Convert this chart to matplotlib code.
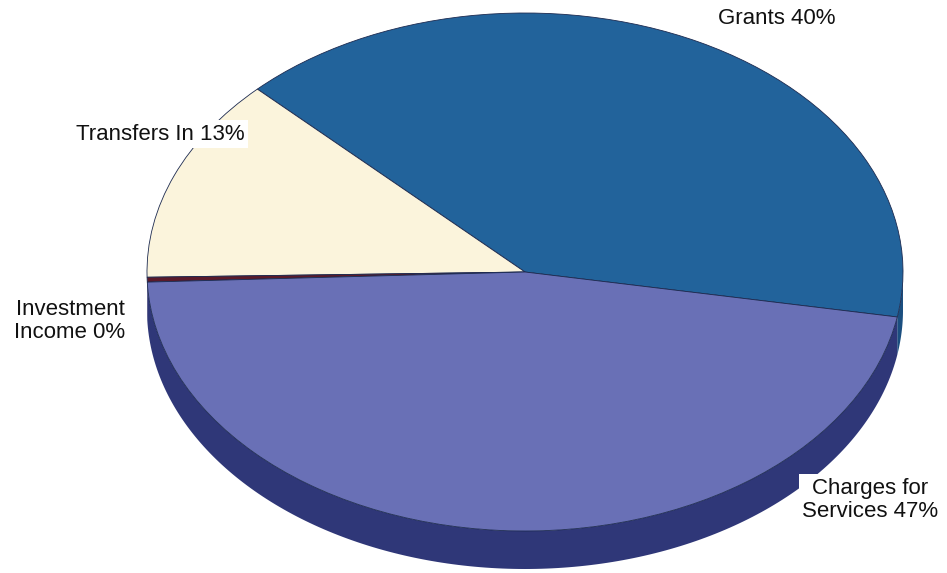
import numpy as np
import matplotlib
matplotlib.use("Agg")
import matplotlib.pyplot as plt

# data (share of revenue, %)
sources = ["Grants", "Transfers In", "Investment\nIncome", "Charges for\nServices"]
shares = [40.3, 12.8, 0.3, 46.6]
colors = ["#22639b", "#fbf4dc", "#5a1a2a", "#6970b6"]
side_colors = ["#1b4f80", "#d8d0b0", "#4a1422", "#2f3778"]

W, H = 947, 573
fig = plt.figure(figsize=(W / 100, H / 100), dpi=100)
ax = fig.add_axes([0, 0, 1, 1])

# ellipse in pixels: centre, half axes, depth of the side
cx, cy, a, b = 525, 272, 378, 259
depth = 38 / b
start = -10.0

wedges, _ = ax.pie(shares, colors=colors, startangle=start, counterclock=True,
                   wedgeprops=dict(edgecolor="#1c2a50", linewidth=0.6), radius=1)
for w in wedges:
    w.set_zorder(3)

# side band of the lower half, coloured by the wedge above it
bounds = start + 360 * np.cumsum([0] + shares) / sum(shares)
for i in range(len(shares)):
    t0, t1 = bounds[i], bounds[i + 1]
    # bring into 180..360 (visible lower half)
    for off in (0, 360, -360):
        lo, hi = max(t0 + off, 180), min(t1 + off, 360)
        if hi > lo:
            t = np.radians(np.linspace(lo, hi, 200))
            x = np.cos(t)
            y = np.sin(t)
            ax.fill(np.r_[x, x[::-1]], np.r_[y, y[::-1] - depth],
                    color=side_colors[i], zorder=2, lw=0)

ax.set_aspect("auto")
ax.set_xlim(-cx / a, (W - cx) / a)
ax.set_ylim((cy - H) / b, cy / b)
ax.axis("off")


def px(x, y):
    return x / W, 1 - y / H


font = dict(family=["Liberation Sans", "DejaVu Sans"], fontsize=16,
            color="#111111", ha="center", va="center", linespacing=1.15)
labels = [f"{s.replace(chr(10), ' ') if i == 1 else s} {v:.0f}%"
          for i, (s, v) in enumerate(zip(sources, shares))]
label_pos = [(777, 18), (160, 134), (70, 321), (870, 500)]
for lab, (x, y) in zip(labels, label_pos):
    fig.text(*px(x, y), lab, **font, zorder=5,
             bbox=dict(boxstyle="square,pad=0.15", fc="white", ec="none"))

fig.savefig("out.png", dpi=100)
